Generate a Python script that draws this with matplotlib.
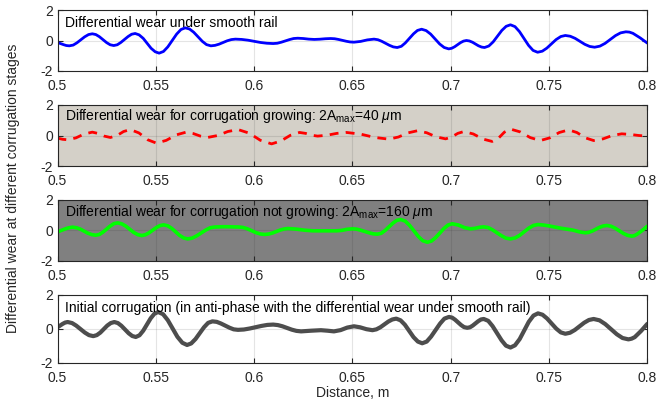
import matplotlib
matplotlib.use("Agg")
import matplotlib.pyplot as plt

plt.rcParams['font.family'] = ['Liberation Sans', 'DejaVu Sans']
plt.rcParams['mathtext.fontset'] = 'custom'
plt.rcParams['mathtext.rm'] = 'Liberation Sans'
plt.rcParams['mathtext.it'] = 'Liberation Sans:italic'

# ---------------- data ----------------
x_smooth = [0.5000, 0.5030, 0.5045, 0.5060, 0.5080, 0.5099, 0.5138, 0.5158, 0.5177,
            0.5195, 0.5213, 0.5250, 0.5268, 0.5286, 0.5304, 0.5322, 0.5359, 0.5377, 0.5395,
            0.5415, 0.5436, 0.5476, 0.5497, 0.5517, 0.5539, 0.5561, 0.5606, 0.5628, 0.5650,
            0.5672, 0.5693, 0.5737, 0.5758, 0.5780, 0.5801, 0.5822, 0.5863, 0.5884, 0.5905,
            0.5937, 0.5969, 0.6033, 0.6065, 0.6097, 0.6118, 0.6139, 0.6180, 0.6201, 0.6222,
            0.6250, 0.6278, 0.6306, 0.6334, 0.6362, 0.6390, 0.6410, 0.6429, 0.6469, 0.6488,
            0.6508, 0.6542, 0.6576, 0.6610, 0.6630, 0.6649, 0.6689, 0.6708, 0.6728, 0.6749,
            0.6769, 0.6811, 0.6831, 0.6852, 0.6875, 0.6898, 0.6944, 0.6967, 0.6990, 0.7005,
            0.7020, 0.7050, 0.7065, 0.7080, 0.7095, 0.7111, 0.7141, 0.7157, 0.7172, 0.7194,
            0.7216, 0.7260, 0.7282, 0.7304, 0.7327, 0.7350, 0.7396, 0.7419, 0.7442, 0.7466,
            0.7489, 0.7536, 0.7560, 0.7583, 0.7608, 0.7633, 0.7682, 0.7707, 0.7732, 0.7759,
            0.7785, 0.7838, 0.7864, 0.7891, 0.7909, 0.7927, 0.7964, 0.8000]
y_smooth = [-0.13, -0.27, -0.33, -0.35, -0.30, -0.15, 0.24, 0.39, 0.44,
            0.39, 0.25, -0.14, -0.28, -0.33, -0.28, -0.13, 0.26, 0.41, 0.46,
            0.37, 0.14, -0.51, -0.74, -0.83, -0.72, -0.42, 0.42, 0.72, 0.83,
            0.75, 0.54, -0.06, -0.27, -0.35, -0.32, -0.24, -0.02, 0.06, 0.09,
            0.07, 0.02, -0.13, -0.18, -0.20, -0.18, -0.11, 0.06, 0.13, 0.15,
            0.13, 0.09, 0.07, 0.085, 0.115, 0.13, 0.115, 0.07, -0.05, -0.095,
            -0.11, -0.06, 0.04, 0.09, 0.05, -0.05, -0.32, -0.42, -0.46, -0.38,
            -0.16, 0.44, 0.66, 0.74, 0.65, 0.42, -0.23, -0.46, -0.55, -0.51,
            -0.41, -0.14, -0.04, 0.00, -0.03, -0.115, -0.345, -0.43, -0.46, -0.36,
            -0.09, 0.66, 0.93, 1.03, 0.91, 0.58, -0.32, -0.65, -0.77, -0.70,
            -0.50, 0.06, 0.26, 0.33, 0.28, 0.14, -0.25, -0.39, -0.44, -0.37,
            -0.19, 0.32, 0.50, 0.57, 0.55, 0.47, 0.17, -0.17]

x_grow = [0.5000, 0.5026, 0.5052, 0.5094, 0.5135, 0.5177, 0.5208, 0.5238, 0.5269, 0.5303,
          0.5336, 0.5370, 0.5414, 0.5459, 0.5503, 0.5553, 0.5604, 0.5654, 0.5690, 0.5727,
          0.5763, 0.5815, 0.5866, 0.5918, 0.5975, 0.6032, 0.6089, 0.6136, 0.6184, 0.6231,
          0.6262, 0.6292, 0.6323, 0.6372, 0.6421, 0.6470, 0.6542, 0.6614, 0.6686, 0.6734,
          0.6782, 0.6830, 0.6878, 0.6926, 0.6974, 0.7005, 0.7036, 0.7067, 0.7115, 0.7163,
          0.7211, 0.7242, 0.7273, 0.7304, 0.7355, 0.7405, 0.7456, 0.7504, 0.7552, 0.7600,
          0.7642, 0.7685, 0.7727, 0.7775, 0.7822, 0.7870, 0.7913, 0.7957, 0.8000]
y_grow = [-0.17, -0.25, -0.28, -0.155, 0.095, 0.22, 0.13, -0.04, -0.13, 0.00,
          0.26, 0.39, 0.17, -0.28, -0.50, -0.32, 0.04, 0.22, 0.13, -0.04,
          -0.13, 0.00, 0.26, 0.39, 0.155, -0.315, -0.55, -0.36, 0.01, 0.20,
          0.14, 0.02, -0.04, 0.02, 0.14, 0.20, 0.09, -0.13, -0.24, -0.10,
          0.17, 0.31, 0.18, -0.09, -0.22, -0.10, 0.14, 0.26, 0.10, -0.23,
          -0.39, -0.19, 0.22, 0.42, 0.23, -0.14, -0.33, -0.155, 0.195, 0.37,
          0.195, -0.155, -0.33, -0.22, 0.00, 0.11, 0.07, 0.00, -0.04]

x_notgrow = [0.5000, 0.5038, 0.5058, 0.5077, 0.5097, 0.5116, 0.5155, 0.5175, 0.5194,
             0.5213, 0.5231, 0.5269, 0.5287, 0.5306, 0.5326, 0.5347, 0.5387, 0.5408, 0.5428,
             0.5447, 0.5465, 0.5503, 0.5521, 0.5540, 0.5560, 0.5581, 0.5621, 0.5642, 0.5662,
             0.5685, 0.5708, 0.5754, 0.5777, 0.5800, 0.5850, 0.5921, 0.5943, 0.5966, 0.6010,
             0.6033, 0.6055, 0.6075, 0.6094, 0.6133, 0.6153, 0.6172, 0.6215, 0.6257, 0.6300,
             0.6420, 0.6447, 0.6473, 0.6500, 0.6521, 0.6542, 0.6585, 0.6606, 0.6627, 0.6647,
             0.6666, 0.6706, 0.6725, 0.6745, 0.6768, 0.6790, 0.6836, 0.6858, 0.6881, 0.6902,
             0.6923, 0.6966, 0.6987, 0.7008, 0.7039, 0.7070, 0.7101, 0.7123, 0.7146, 0.7168,
             0.7191, 0.7213, 0.7259, 0.7281, 0.7304, 0.7327, 0.7351, 0.7397, 0.7421, 0.7444,
             0.7470, 0.7500, 0.7560, 0.7620, 0.7655, 0.7684, 0.7702, 0.7721, 0.7757, 0.7776,
             0.7794, 0.7815, 0.7836, 0.7879, 0.7900, 0.7921, 0.7934, 0.7947, 0.7974, 0.8000]
y_notgrow = [-0.09, 0.10, 0.18, 0.22, 0.18, 0.09, -0.18, -0.27, -0.31,
             -0.26, -0.11, 0.30, 0.45, 0.50, 0.44, 0.29, -0.12, -0.27, -0.33,
             -0.28, -0.155, 0.195, 0.32, 0.37, 0.31, 0.14, -0.32, -0.49, -0.55,
             -0.50, -0.35, 0.03, 0.18, 0.23, 0.25, 0.23, 0.20, 0.11, -0.14,
             -0.23, -0.26, -0.23, -0.16, 0.03, 0.10, 0.13, 0.09, 0.02, -0.02,
             -0.02, 0.01, 0.08, 0.11, 0.09, 0.02, -0.15, -0.22, -0.24, -0.18,
             0.00, 0.48, 0.66, 0.72, 0.62, 0.35, -0.40, -0.67, -0.77, -0.69,
             -0.47, 0.14, 0.36, 0.44, 0.36, 0.19, 0.11, 0.14, 0.21, 0.24,
             0.19, 0.04, -0.35, -0.50, -0.55, -0.49, -0.315, 0.155, 0.33, 0.39,
             0.36, 0.30, 0.15, 0.03, -0.09, -0.15, -0.12, -0.03, 0.21, 0.30,
             0.33, 0.28, 0.155, -0.195, -0.32, -0.37, -0.34, -0.25, 0.00, 0.28]

x_init = [0.5000, 0.5026, 0.5039, 0.5052, 0.5074, 0.5095, 0.5139, 0.5160, 0.5182,
          0.5200, 0.5218, 0.5253, 0.5271, 0.5289, 0.5307, 0.5325, 0.5362, 0.5380, 0.5398,
          0.5417, 0.5436, 0.5474, 0.5493, 0.5512, 0.5537, 0.5561, 0.5610, 0.5635, 0.5659,
          0.5680, 0.5702, 0.5745, 0.5766, 0.5788, 0.5810, 0.5831, 0.5875, 0.5896, 0.5918,
          0.5948, 0.5978, 0.6037, 0.6067, 0.6097, 0.6121, 0.6144, 0.6192, 0.6215, 0.6239,
          0.6290, 0.6340, 0.6373, 0.6406, 0.6440, 0.6474, 0.6508, 0.6539, 0.6571, 0.6602,
          0.6622, 0.6642, 0.6683, 0.6703, 0.6723, 0.6745, 0.6767, 0.6811, 0.6833, 0.6855,
          0.6878, 0.6900, 0.6946, 0.6968, 0.6991, 0.7007, 0.7022, 0.7053, 0.7068, 0.7084,
          0.7098, 0.7112, 0.7140, 0.7154, 0.7168, 0.7191, 0.7213, 0.7259, 0.7281, 0.7304,
          0.7327, 0.7351, 0.7397, 0.7421, 0.7444, 0.7467, 0.7490, 0.7537, 0.7560, 0.7583,
          0.7607, 0.7631, 0.7679, 0.7703, 0.7727, 0.7757, 0.7786, 0.7845, 0.7874, 0.7904,
          0.7920, 0.7936, 0.7968, 0.8000]
y_init = [0.10, 0.30, 0.38, 0.41, 0.35, 0.20, -0.21, -0.36, -0.42,
          -0.36, -0.21, 0.20, 0.35, 0.41, 0.35, 0.19, -0.25, -0.41, -0.47,
          -0.37, -0.10, 0.63, 0.90, 1.00, 0.87, 0.52, -0.46, -0.81, -0.94,
          -0.85, -0.59, 0.10, 0.36, 0.45, 0.42, 0.325, 0.075, -0.02, -0.05,
          -0.03, 0.03, 0.18, 0.24, 0.26, 0.23, 0.16, -0.04, -0.11, -0.14,
          -0.10, -0.07, -0.10, -0.14, -0.065, 0.085, 0.16, 0.10, -0.01, -0.07,
          -0.02, 0.10, 0.44, 0.56, 0.61, 0.51, 0.25, -0.48, -0.74, -0.84,
          -0.74, -0.45, 0.32, 0.61, 0.71, 0.67, 0.55, 0.23, 0.11, 0.07,
          0.10, 0.20, 0.46, 0.56, 0.59, 0.48, 0.17, -0.67, -0.98, -1.09,
          -0.96, -0.59, 0.42, 0.79, 0.92, 0.84, 0.62, 0.02, -0.20, -0.28,
          -0.22, -0.06, 0.37, 0.53, 0.59, 0.51, 0.29, -0.31, -0.53, -0.61,
          -0.57, -0.48, -0.12, 0.30]

x_ticks = [0.5, 0.55, 0.6, 0.65, 0.7, 0.75, 0.8]
x_ticklabels = ['0.5', '0.55', '0.6', '0.65', '0.7', '0.75', '0.8']
y_ticks = [-2, 0, 2]
y_ticklabels = ['-2', '0', '2']

titles = ['Differential wear under smooth rail',
          r'Differential wear for corrugation growing: 2A$_\mathregular{max}$=40 $\mu$m',
          r'Differential wear for corrugation not growing: 2A$_\mathregular{max}$=160 $\mu$m',
          'Initial corrugation (in anti-phase with the differential wear under smooth rail)']
ylabel = 'Differential wear at different corrugation stages'
xlabel = 'Distance, m'

# ---------------- figure ----------------
W, H = 660, 408
fig = plt.figure(figsize=(W / 100, H / 100), dpi=100)

left = 57.5 / W
width = (647.3 - 57.5) / W
panels = [(10, 71), (105, 166), (200, 261), (295, 363)]
bgs = ['white', '#D4D0C8', '#808080', 'white']
series = [(x_smooth, y_smooth, dict(color='#0000FF', lw=2.0, ls='-')),
          (x_grow, y_grow, dict(color='#FF0000', lw=2.0, ls=(0, (3.2, 2.6)))),
          (x_notgrow, y_notgrow, dict(color='#00FF00', lw=2.6, ls='-')),
          (x_init, y_init, dict(color='#4D4D4D', lw=3.0, ls='-'))]
text_y = [1.18, 1.28, 1.2, 1.26]

for i, ((top, bot), bg, (xs, ys, st)) in enumerate(zip(panels, bgs, series)):
    ax = fig.add_axes([left, 1 - bot / H, width, (bot - top) / H])
    ax.set_facecolor(bg)
    ax.plot(xs, ys, color=st['color'], lw=st['lw'], ls=st['ls'],
            solid_joinstyle='round', solid_capstyle='round', dash_capstyle='butt')
    ax.set_xlim(0.5, 0.8)
    ax.set_ylim(-2, 2)
    ax.set_xticks(x_ticks)
    ax.set_xticklabels(x_ticklabels)
    ax.set_yticks(y_ticks)
    ax.set_yticklabels(y_ticklabels)
    ax.grid(True, color='#262626', alpha=0.12, lw=0.8)
    ax.set_axisbelow(True)
    ax.tick_params(direction='in', length=3.5, width=0.8, top=True, right=True,
                   labelsize=10, colors='#262626')
    ax.tick_params(axis='x', pad=5.5)
    ax.tick_params(axis='y', pad=3)
    for sp in ax.spines.values():
        sp.set_color('#262626')
        sp.set_linewidth(0.8)
    ax.text(0.504, text_y[i], titles[i], fontsize=10, va='center', ha='left',
            color='#000000')

fig.text(0.019, 1 - 188 / H, ylabel, rotation=90, va='center', ha='center',
         fontsize=10, color='#262626')
fig.text((57.5 + 647.3) / 2 / W, 1 - 393 / H, xlabel, va='center', ha='center',
         fontsize=10, color='#262626')

fig.savefig('out.png', dpi=100)
